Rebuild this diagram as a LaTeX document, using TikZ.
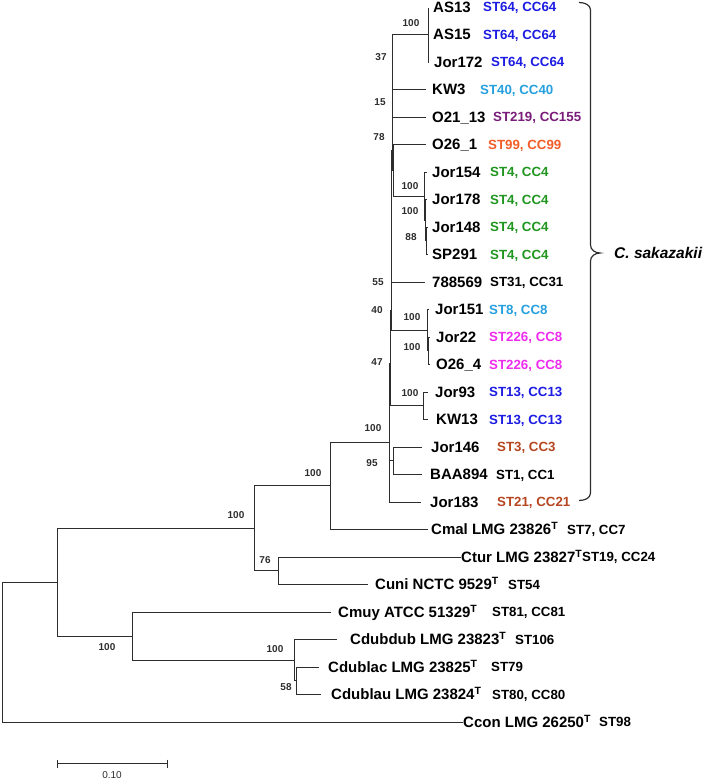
\documentclass[tikz,border=0pt]{standalone}
\usepackage{fontspec}
\setmainfont{Liberation Sans}

\definecolor{treegray}{RGB}{45,45,45}
\definecolor{stblue}{RGB}{28,28,226}
\definecolor{stcyan}{RGB}{38,160,222}
\definecolor{stpurple}{RGB}{122,28,122}
\definecolor{storange}{RGB}{242,92,40}
\definecolor{stgreen}{RGB}{32,150,32}
\definecolor{stmagenta}{RGB}{238,44,238}
\definecolor{stbrown}{RGB}{182,70,32}

\begin{document}
\begin{tikzpicture}[
    x=1pt, y=-1pt,
    branch/.style={draw=treegray, line width=1.2pt},
    leaf/.style={anchor=base west, inner sep=0pt, yshift=-5.4pt, font=\fontsize{15}{18}\selectfont\bfseries},
    stlab/.style={anchor=base west, inner sep=0pt, yshift=-4.8pt, font=\fontsize{13.3}{16}\selectfont\bfseries},
    boot/.style={anchor=base, inner sep=0pt, yshift=-3.6pt, text=treegray, font=\fontsize{10}{12}\selectfont\bfseries},
    clade/.style={anchor=base west, inner sep=0pt, yshift=-5.6pt, font=\fontsize{15.5}{18}\selectfont\bfseries\itshape}
]
\useasboundingbox (0,0) rectangle (709,779);

% Leaves: tip, name, ST/CC label
\foreach \id/\tx/\r/\nx/\name/\sx/\col/\st in {
    as13/428.5/0/433/AS13/483/stblue/{ST64, CC64},
    as15/428.5/1/433/AS15/483/stblue/{ST64, CC64},
    jor172/428.5/2/434/Jor172/491/stblue/{ST64, CC64},
    kw3/425.5/3/432/KW3/480/stcyan/{ST40, CC40},
    o2113/425.5/4/432/O21\_13/493/stpurple/{ST219, CC155},
    o261/425.5/5/432/O26\_1/488/storange/{ST99, CC99},
    jor154/426.5/6/432/Jor154/490/stgreen/{ST4, CC4},
    jor178/426.5/7/432/Jor178/490/stgreen/{ST4, CC4},
    jor148/427.5/8/432/Jor148/490/stgreen/{ST4, CC4},
    sp291/427.5/9/432/SP291/490/stgreen/{ST4, CC4},
    s788569/424.5/10/432/788569/490/black/{ST31, CC31},
    jor151/428.5/11/435/Jor151/489/stcyan/{ST8, CC8},
    jor22/429.5/12/436/Jor22/489/stmagenta/{ST226, CC8},
    o264/429.5/13/436/O26\_4/489/stmagenta/{ST226, CC8},
    jor93/427.5/14/435/Jor93/489/stblue/{ST13, CC13},
    kw13/427.5/15/436/KW13/489/stblue/{ST13, CC13},
    jor146/421.5/16/431/Jor146/497/stbrown/{ST3, CC3},
    baa894/421.5/17/430/BAA894/496/black/{ST1, CC1},
    jor183/420.5/18/430/Jor183/497/stbrown/{ST21, CC21},
    cmal/427.5/19/431/Cmal LMG 23826\textsuperscript{T}/567/black/{ST7, CC7},
    ctur/460.5/20/461/Ctur LMG 23827\textsuperscript{T}/582/black/{ST19, CC24},
    cuni/367.5/21/375/Cuni NCTC 9529\textsuperscript{T}/508/black/ST54,
    cmuy/330.5/22/338/Cmuy ATCC 51329\textsuperscript{T}/492/black/{ST81, CC81},
    cdubdub/336.5/23/350/Cdubdub LMG 23823\textsuperscript{T}/515/black/ST106,
    cdublac/318.5/24/328/Cdublac LMG 23825\textsuperscript{T}/491/black/ST79,
    cdublau/320.5/25/331/Cdublau LMG 23824\textsuperscript{T}/492/black/{ST80, CC80},
    ccon/462.5/26/463/Ccon LMG 26250\textsuperscript{T}/599/black/ST98}
{
    \pgfmathsetmacro{\ry}{int(7+27.5*\r)+0.5}
    \coordinate (\id) at (\tx, \ry);
    \node[leaf] (\id-lab) at (\nx, 7+27.5*\r) {\name};
    \node[stlab, text=\col] (\id-st) at (\sx, 7+27.5*\r) {\st};
}

% Internal nodes
\coordinate (nas) at (428.5,34.5);
\coordinate (n15) at (392.5,103.5);
\coordinate (n37) at (392.5,69.5);
\coordinate (nc) at (426.5,240.5);
\coordinate (nb) at (425.5,220.5);
\coordinate (nj154) at (424.5,196.5);
\coordinate (no) at (393.5,170.5);
\coordinate (n78) at (392.5,150.5);
\coordinate (n55) at (391.5,282.5);
\coordinate (n22) at (428.5,350.5);
\coordinate (n151) at (427.5,330.5);
\coordinate (n40) at (391.5,310.5);
\coordinate (n93) at (423.5,405.5);
\coordinate (nup) at (390.5,363.5);
\coordinate (n95) at (393.5,460.5);
\coordinate (nsak) at (389.5,442.5);
\coordinate (ncm) at (330.5,485.5);
\coordinate (n76) at (278.5,570.5);
\coordinate (n2) at (254.5,528.5);
\coordinate (n5) at (296.5,680.5);
\coordinate (n4) at (294.5,660.5);
\coordinate (n3) at (132.5,636.5);
\coordinate (n1) at (57.5,582.5);
\coordinate (root) at (2.5,651.5);

% Branches
\foreach \p/\c in {root/n1, root/ccon, n1/n2, n1/n3, n2/ncm, n2/n76,
    ncm/nsak, ncm/cmal, n76/ctur, n76/cuni, n3/cmuy, n3/n4,
    n4/cdubdub, n4/n5, n5/cdublac, n5/cdublau,
    nsak/nup, nsak/n95, nsak/jor183, n95/jor146, n95/baa894,
    nup/n40, nup/n93, n93/jor93, n93/kw13,
    n40/n55, n40/n151, n151/jor151, n151/n22, n22/jor22, n22/o264,
    n55/n78, n55/s788569, n78/n37, n78/no, no/o261, no/nj154,
    nj154/jor154, nj154/nb, nb/jor178, nb/nc, nc/jor148, nc/sp291,
    n37/nas, n37/n15, nas/as13, nas/as15, nas/jor172, n15/kw3, n15/o2113}
    \draw[branch] (\p) |- (\c);

% Bootstrap values
\foreach \bx/\by/\bv [count=\k] in {411/23/100, 381/57/37, 380/102/15, 379/137/78,
    410/186/100, 410/211/100, 411/237/88, 378/282/55, 377/310/40,
    412/317/100, 412/347/100, 377/362/47, 410/393/100, 373/428/100,
    372/463/95, 313/473/100, 236/515/100, 265/560/76, 107/647/100,
    275/649/100, 286/687/58}
    \node[boot] (b\k) at (\bx,\by) {\bv};

% Clade brace
\coordinate (br1) at (579,2.5);
\coordinate (brtip) at (600,253);
\coordinate (br2) at (579,500.5);
\draw[branch] (br1) to[out=0, in=90] (590.5,10) -- (590.5,245)
    to[out=-90, in=180] (brtip) to[out=180, in=90] (590.5,261)
    -- (590.5,493) to[out=-90, in=0] (br2);
\node[clade] (sak) at (614,253) {C. sakazakii};

% Scale bar
\coordinate (sb1) at (57.5,763.5);
\coordinate (sb2) at (167.5,763.5);
\draw[branch] (sb1) -- (sb2);
\draw[branch] ([yshift=4pt]sb1) -- ([yshift=-4pt]sb1);
\draw[branch] ([yshift=4pt]sb2) -- ([yshift=-4pt]sb2);
\node[anchor=base, inner sep=0pt, text=treegray, font=\fontsize{10}{12}\selectfont] (sblab) at (112,778) {0.10};
\end{tikzpicture}
\end{document}
